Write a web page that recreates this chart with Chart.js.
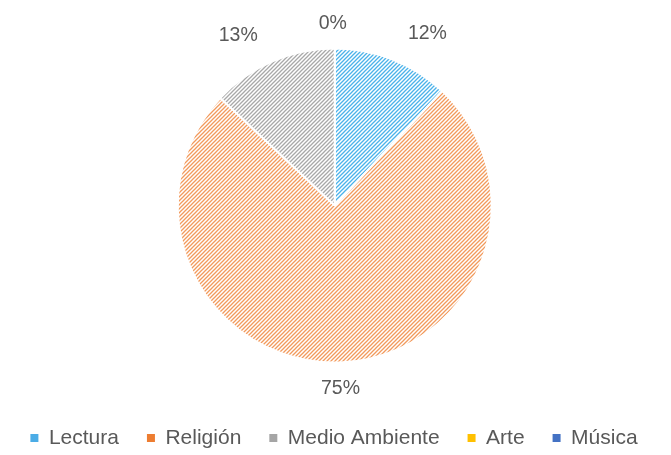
<!DOCTYPE html>
<html>
<head>
<meta charset="utf-8">
<script src="https://cdn.jsdelivr.net/npm/chart.js@4.4.1/dist/chart.umd.min.js"></script>
<style>
  body { margin: 0; background: #fff; }
  #wrap { width: 671px; height: 455px; }
</style>
</head>
<body>
<div id="wrap"><canvas id="pie" width="671" height="455"></canvas></div>
<script>
// data
var categories = ["Lectura", "Religión", "Medio Ambiente", "Arte", "Música"];
var percents = [12, 75, 13, 0, 0];
var lineColors = ["#4AB2EA", "#F29A5C", "#A8A8A8", "#FFC000", "#4472C4"];
var legendColors = ["#4BACE6", "#ED7D31", "#A5A5A5", "#FFC000", "#4472C4"];

// diagonal hatch like the excel pattern fill
function hatch(color) {
    var c = document.createElement("canvas");
    c.width = 4; c.height = 4;
    var g = c.getContext("2d");
    g.fillStyle = "#fff";
    g.fillRect(0, 0, 4, 4);
    g.strokeStyle = color;
    g.lineWidth = 1.3;
    g.beginPath();
    g.moveTo(0, 4); g.lineTo(4, 0);
    g.moveTo(-1, 1); g.lineTo(1, -1);
    g.moveTo(3, 5); g.lineTo(5, 3);
    g.stroke();
    return g.createPattern(c, "repeat");
}

var fills = lineColors.map(hatch);

// percent labels outside the slices, spread apart near the top like excel does
var outsideLabels = {
    id: "outsideLabels",
    afterDatasetsDraw: function (chart) {
        var ctx = chart.ctx;
        var meta = chart.getDatasetMeta(0);
        ctx.save();
        ctx.font = "19.5px 'Liberation Sans', Arial, sans-serif";
        ctx.fillStyle = "#595959";
        ctx.textAlign = "center";
        ctx.textBaseline = "middle";
        var labels = [];
        meta.data.forEach(function (arc, i) {
            var p = arc.getProps(["x", "y", "startAngle", "endAngle", "outerRadius"], true);
            var deg = ((p.startAngle + p.endAngle) / 2 + Math.PI / 2) * 180 / Math.PI;
            if (deg > 180) deg -= 360;
            var txt = percents[i] + "%";
            var dup = labels.some(function (l) { return l.txt == txt && Math.abs(l.deg - deg) < 0.5; });
            if (!dup) labels.push({ txt: txt, deg: deg, x: p.x, y: p.y, r: p.outerRadius });
        });
        labels.sort(function (a, b) { return a.deg - b.deg; });
        var minSep = 29;
        for (var it = 0; it < 40; it++) {
            for (var k = 1; k < labels.length; k++) {
                var gap = labels[k].deg - labels[k - 1].deg;
                if (gap < minSep) {
                    labels[k].deg += (minSep - gap) / 2;
                    labels[k - 1].deg -= (minSep - gap) / 2;
                }
            }
        }
        labels.forEach(function (l) {
            var a = l.deg * Math.PI / 180;
            var w = ctx.measureText(l.txt).width;
            var d = l.r + 16 + Math.abs(Math.sin(a)) * w * 0.75 + Math.abs(Math.cos(a)) * 9;
            ctx.fillText(l.txt, l.x + Math.sin(a) * d, l.y - Math.cos(a) * d);
        });
        ctx.restore();
    }
};

var ctx1 = document.getElementById("pie").getContext("2d");
var myPie = new Chart(ctx1, {
    type: "pie",
    data: {
        labels: categories,
        datasets: [{
            data: percents,
            backgroundColor: fills,
            borderColor: "#fff",
            borderWidth: 2
        }]
    },
    options: {
        responsive: false,
        animation: false,
        radius: 157,
        layout: { padding: { top: 11.5, bottom: -3.5, left: -1.5, right: 1.5 } },
        plugins: {
            tooltip: { enabled: false },
            legend: {
                position: "bottom",
                labels: {
                    boxWidth: 8,
                    boxHeight: 8,
                    padding: 28,
                    color: "#595959",
                    font: { family: "'Liberation Sans', Arial, sans-serif", size: 21 },
                    generateLabels: function (chart) {
                        return categories.map(function (c, i) {
                            return {
                                text: c,
                                fillStyle: legendColors[i],
                                strokeStyle: legendColors[i],
                                lineWidth: 0,
                                fontColor: "#595959",
                                hidden: false,
                                index: i
                            };
                        });
                    }
                }
            }
        }
    },
    plugins: [outsideLabels]
});
</script>
</body>
</html>
